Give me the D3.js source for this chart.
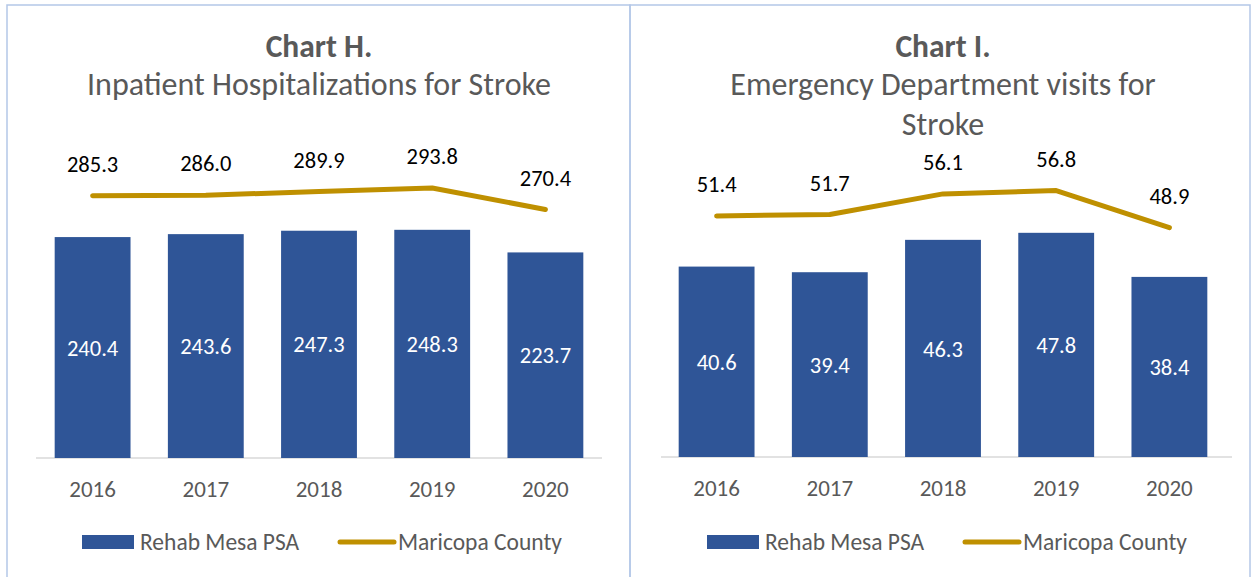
<!DOCTYPE html>
<html>
<head>
<meta charset="utf-8">
<script src="https://cdn.jsdelivr.net/npm/d3@7"></script>
<style>
  body { margin: 0; background: #fff; }
  svg text { font-family: Calibri, Carlito, "Liberation Sans", Arial, sans-serif; }
</style>
</head>
<body>
<div class="interactive"></div>
<script>
// Data
const years = ["2016", "2017", "2018", "2019", "2020"];
const hospPSA = [240.4, 243.6, 247.3, 248.3, 223.7];
const hospCounty = [285.3, 286.0, 289.9, 293.8, 270.4];
const edPSA = [40.6, 39.4, 46.3, 47.8, 38.4];
const edCounty = [51.4, 51.7, 56.1, 56.8, 48.9];
const seriesNames = ["Rehab Mesa PSA", "Maricopa County"];

const barColor = "#2F5597";
const lineColor = "#BF9000";
const greyText = "#595959";

const svg = d3.select(".interactive")
  .append("svg")
  .attr("width", 1252)
  .attr("height", 577);

// panel borders
svg.append("rect")
  .attr("x", 7).attr("y", 5).attr("width", 623).attr("height", 600)
  .attr("fill", "none").attr("stroke", "#B4C7E7").attr("stroke-width", 1.5);
svg.append("rect")
  .attr("x", 630).attr("y", 5).attr("width", 620).attr("height", 600)
  .attr("fill", "none").attr("stroke", "#B4C7E7").attr("stroke-width", 1.5);

function drawPanel(opts) {
  const g = svg.append("g");

  // titles
  g.append("text")
    .attr("x", opts.cx).attr("y", 46).attr("dy", "0.34em")
    .attr("text-anchor", "middle")
    .attr("font-size", 31.5).attr("font-weight", "bold")
    .attr("fill", greyText)
    .text(opts.title);
  opts.subtitle.forEach((line, i) => {
    g.append("text")
      .attr("x", opts.cx).attr("y", 84 + i * 40).attr("dy", "0.34em")
      .attr("text-anchor", "middle")
      .attr("font-size", 32)
      .attr("fill", greyText)
      .text(line);
  });

  const x = d3.scaleBand()
    .domain(years)
    .range(opts.xRange)
    .paddingInner(0.33)
    .paddingOuter(0.165);
  const y = d3.scaleLinear()
    .domain([0, opts.yMax])
    .range([opts.base, opts.base - opts.yMax * opts.pxPerUnit]);

  // axis
  const axis = g.append("g")
    .attr("transform", `translate(0, ${opts.base})`)
    .call(d3.axisBottom(x).tickSize(0).tickPadding(0));
  axis.select(".domain").remove();
  axis.append("line")
    .attr("x1", opts.axisX[0]).attr("x2", opts.axisX[1])
    .attr("stroke", "#D9D9D9").attr("stroke-width", 1.5);
  axis.selectAll("text")
    .attr("y", 31).attr("dy", "0.36em")
    .attr("font-size", 23).attr("fill", greyText)
    .style("font-family", null);

  // bars
  const rows = years.map((yr, i) => ({ year: yr, bar: opts.bars[i], line: opts.line[i] }));
  g.selectAll(".bar")
    .data(rows)
    .join("rect")
    .attr("class", "bar")
    .attr("x", d => x(d.year))
    .attr("width", x.bandwidth())
    .attr("y", d => y(d.bar))
    .attr("height", d => y(0) - y(d.bar))
    .attr("fill", barColor);

  g.selectAll(".bar-label")
    .data(rows)
    .join("text")
    .attr("class", "bar-label")
    .attr("x", d => x(d.year) + x.bandwidth() / 2)
    .attr("y", d => (y(d.bar) + y(0)) / 2)
    .attr("dy", "0.36em")
    .attr("text-anchor", "middle")
    .attr("font-size", 22.5)
    .attr("fill", "#fff")
    .text(d => d.bar.toFixed(1));

  // county line
  const line = d3.line()
    .x(d => x(d.year) + x.bandwidth() / 2)
    .y(d => y(d.line));
  g.append("path")
    .datum(rows)
    .attr("d", line)
    .attr("fill", "none")
    .attr("stroke", lineColor)
    .attr("stroke-width", 5)
    .attr("stroke-linecap", "round")
    .attr("stroke-linejoin", "round");

  g.selectAll(".line-label")
    .data(rows)
    .join("text")
    .attr("class", "line-label")
    .attr("x", d => x(d.year) + x.bandwidth() / 2)
    .attr("y", d => y(d.line) - 32)
    .attr("dy", "0.36em")
    .attr("text-anchor", "middle")
    .attr("font-size", 22.5)
    .attr("fill", "#000")
    .text(d => d.line.toFixed(1));

  // legend
  const lx = opts.legendX;
  g.append("rect")
    .attr("x", lx).attr("y", 535).attr("width", 52).attr("height", 14)
    .attr("fill", barColor);
  g.append("text")
    .attr("x", lx + 58).attr("y", 542).attr("dy", "0.34em")
    .attr("font-size", 23.5).attr("fill", greyText)
    .text(seriesNames[0]);
  g.append("line")
    .attr("x1", lx + 258).attr("x2", lx + 312)
    .attr("y1", 542).attr("y2", 542)
    .attr("stroke", lineColor).attr("stroke-width", 5)
    .attr("stroke-linecap", "round");
  g.append("text")
    .attr("x", lx + 316).attr("y", 542).attr("dy", "0.34em")
    .attr("font-size", 23.5).attr("fill", greyText)
    .text(seriesNames[1]);
}

drawPanel({
  cx: 319,
  title: "Chart H.",
  subtitle: ["Inpatient Hospitalizations for Stroke"],
  xRange: [36, 602],
  axisX: [36, 602],
  base: 458,
  yMax: 350,
  pxPerUnit: 0.919,
  bars: hospPSA,
  line: hospCounty,
  legendX: 82
});

drawPanel({
  cx: 943,
  title: "Chart I.",
  subtitle: ["Emergency Department visits for", "Stroke"],
  xRange: [660, 1226],
  axisX: [661, 1232],
  base: 457,
  yMax: 70,
  pxPerUnit: 4.69,
  bars: edPSA,
  line: edCounty,
  legendX: 707
});
</script>
</body>
</html>
